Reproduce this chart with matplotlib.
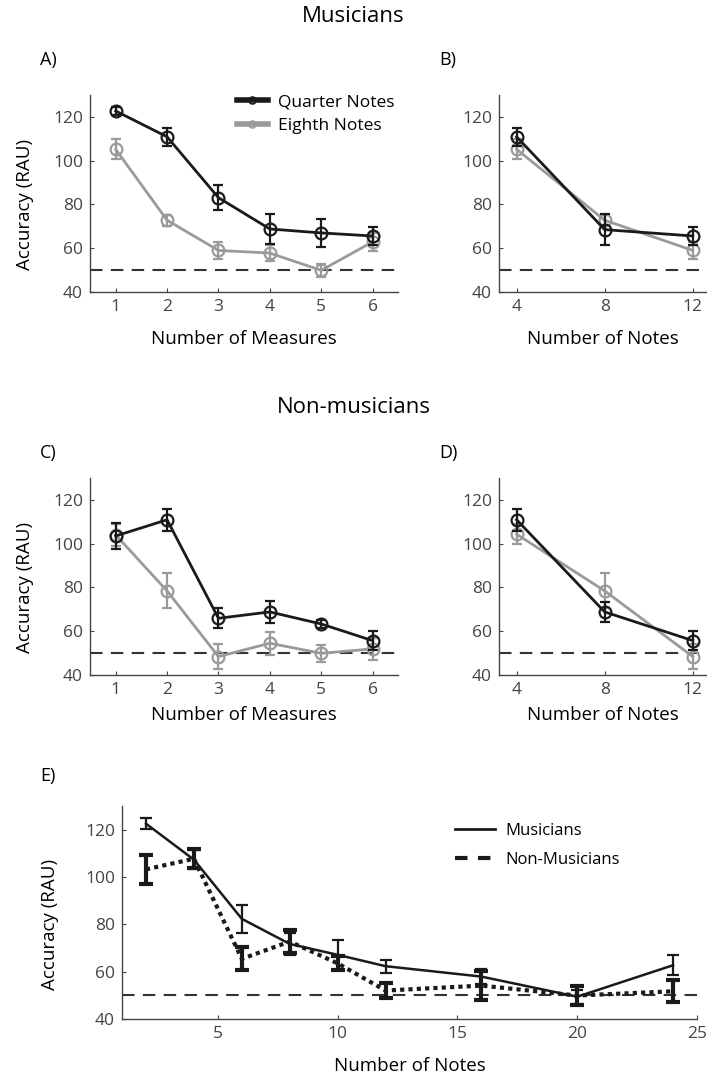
import matplotlib
matplotlib.use("Agg")
import matplotlib.pyplot as plt
from matplotlib.lines import Line2D

plt.rcParams['font.family'] = ['Open Sans', 'DejaVu Sans']

# ---------------- data ----------------
measures = [1, 2, 3, 4, 5, 6]
notes_bd = [4, 8, 12]
notes_e = [2, 4, 6, 8, 10, 12, 16, 20, 24]

a_quarter = [122.7, 110.9, 83.1, 68.8, 67.0, 65.6]
a_quarter_err = [2.0, 4.0, 5.7, 7.0, 6.5, 4.3]
a_eighth = [105.2, 72.8, 59.0, 57.8, 49.9, 62.9]
a_eighth_err = [4.5, 2.5, 4.0, 3.5, 3.0, 4.0]

b_quarter = [110.9, 68.5, 65.6]
b_quarter_err = [4.0, 7.0, 4.3]
b_eighth = [105.2, 72.8, 59.0]
b_eighth_err = [4.5, 2.5, 4.0]

c_quarter = [103.5, 110.9, 65.9, 68.8, 63.3, 55.7]
c_quarter_err = [6.0, 5.0, 4.5, 5.0, 2.0, 4.3]
c_eighth = [104.0, 78.4, 48.4, 54.5, 49.9, 51.9]
c_eighth_err = [5.0, 8.0, 5.7, 5.3, 3.8, 5.0]

d_quarter = [110.9, 68.8, 55.7]
d_quarter_err = [5.0, 4.5, 4.3]
d_eighth = [104.3, 78.4, 48.4]
d_eighth_err = [4.5, 8.0, 5.7]

e_musicians = [122.5, 107.3, 82.3, 71.7, 67.1, 62.3, 57.9, 49.4, 62.7]
e_musicians_err = [2.2, 3.9, 5.8, 4.6, 6.3, 2.8, 3.0, 3.0, 4.3]
e_nonmusicians = [103.2, 107.7, 65.4, 72.7, 63.5, 52.0, 54.1, 49.9, 51.7]
e_nonmusicians_err = [6.0, 4.0, 4.8, 5.0, 3.0, 3.2, 6.0, 4.0, 4.6]

chance = 50
yticks = [40, 60, 80, 100, 120]

BLACK = '#1a1a1a'
GRAY = '#9a9a9a'
TICKC = '#444444'
SPINEC = '#444444'
FS = 12.5
LFS = 13.5

fig = plt.figure(figsize=(7.07, 10.76), dpi=100)


def style(ax):
    for s in ['top', 'right']:
        ax.spines[s].set_visible(False)
    for s in ['left', 'bottom']:
        ax.spines[s].set_color(SPINEC)
        ax.spines[s].set_linewidth(1.0)
    ax.tick_params(direction='in', length=3, width=0.8, colors=SPINEC,
                   labelcolor=TICKC, labelsize=FS, pad=5)
    ax.set_ylim(40, 130)
    ax.set_yticks(yticks)


def panel(ax, x, q, qe, e, ee, xlim, xlabel, xpad, ylabel=True):
    ax.axhline(chance, color='#333333', lw=1.5, ls=(0, (6, 4)), zorder=1)
    ax.errorbar(x, e, yerr=ee, color=GRAY, lw=2, marker='o', ms=8.5,
                mfc='none', mec=GRAY, mew=1.6, capsize=3.5, capthick=1.6,
                elinewidth=1.6, zorder=2, label='Eighth Notes')
    ax.errorbar(x, q, yerr=qe, color=BLACK, lw=2, marker='o', ms=8.5,
                mfc='none', mec=BLACK, mew=1.6, capsize=3.5, capthick=1.6,
                elinewidth=1.6, zorder=3, label='Quarter Notes')
    ax.set_xlim(*xlim)
    ax.set_xticks(x)
    style(ax)
    ax.set_xlabel(xlabel, fontsize=LFS, labelpad=xpad)
    if ylabel:
        ax.set_ylabel('Accuracy (RAU)', fontsize=LFS)
        ax.yaxis.set_label_coords(-0.182, 0.444)


axA = fig.add_axes([0.1273, 0.7286, 0.436, 0.1831])
panel(axA, measures, a_quarter, a_quarter_err, a_eighth, a_eighth_err,
      (0.5, 6.5), 'Number of Measures', 11)
lh = [Line2D([], [], color=BLACK, lw=4, marker='o', ms=5, mfc='none', mec=BLACK, mew=1.2),
      Line2D([], [], color=GRAY, lw=4, marker='o', ms=5, mfc='none', mec=GRAY, mew=1.2)]
axA.legend(lh, ['Quarter Notes', 'Eighth Notes'], loc='upper left',
           bbox_to_anchor=(0.425, 1.085), frameon=False, fontsize=FS,
           handlelength=1.8, handletextpad=0.6, labelspacing=0.45)

axB = fig.add_axes([0.7058, 0.7286, 0.2928, 0.1831])
panel(axB, notes_bd, b_quarter, b_quarter_err, b_eighth, b_eighth_err,
      (3.2, 12.6), 'Number of Notes', 11, ylabel=False)

axC = fig.add_axes([0.1273, 0.3727, 0.436, 0.1831])
panel(axC, measures, c_quarter, c_quarter_err, c_eighth, c_eighth_err,
      (0.5, 6.5), 'Number of Measures', 6)

axD = fig.add_axes([0.7058, 0.3727, 0.2928, 0.1831])
panel(axD, notes_bd, d_quarter, d_quarter_err, d_eighth, d_eighth_err,
      (3.2, 12.6), 'Number of Notes', 6, ylabel=False)

axE = fig.add_axes([0.1726, 0.053, 0.8133, 0.198])
axE.axhline(chance, color='#333333', lw=1.5, ls=(0, (6, 4)), zorder=1)
axE.errorbar(notes_e, e_musicians, yerr=e_musicians_err, color=BLACK, lw=1.8,
             capsize=4.3, capthick=1.6, elinewidth=1.6, zorder=3)
axE.errorbar(notes_e, e_nonmusicians, yerr=e_nonmusicians_err, color=BLACK,
             lw=3, ls=(0, (1, 1)), capsize=5.2, capthick=3, elinewidth=3, zorder=2)
axE.set_xlim(1, 25)
axE.set_xticks([5, 10, 15, 20, 25])
style(axE)
axE.set_xlabel('Number of Notes', fontsize=LFS, labelpad=11)
axE.set_ylabel('Accuracy (RAU)', fontsize=LFS)
axE.yaxis.set_label_coords(-0.110, 0.444)
lhE = [Line2D([], [], color=BLACK, lw=2),
       Line2D([], [], color=BLACK, lw=3, ls=(0, (3, 2.5)))]
axE.legend(lhE, ['Musicians', 'Non-Musicians'], loc='upper left',
           bbox_to_anchor=(0.553, 0.99), frameon=False, fontsize=12,
           handlelength=2.4, handletextpad=0.6, labelspacing=0.75)

# titles and panel letters
fig.text(353 / 707, 1 - 17 / 1076, 'Musicians', ha='center', va='center', fontsize=16)
fig.text(0.5, 0.621, 'Non-musicians', ha='center', va='center', fontsize=16)
for lbl, x, y in [('A)', 40, 60), ('B)', 439, 60), ('C)', 40, 453),
                  ('D)', 439, 453), ('E)', 40, 776)]:
    fig.text(x / 707, 1 - y / 1076, lbl, ha='left', va='center', fontsize=13)

fig.savefig('out.png', dpi=100)
